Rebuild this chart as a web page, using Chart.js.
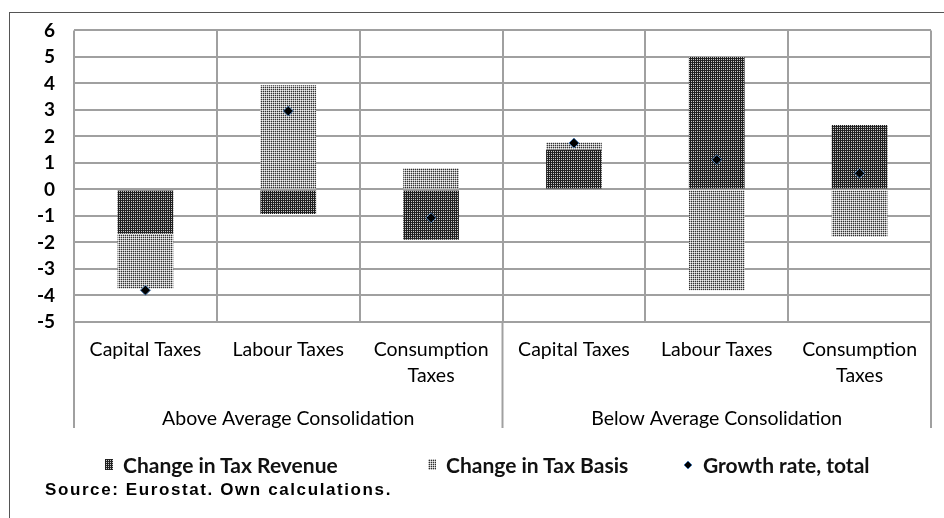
<!DOCTYPE html>
<html>
<head>
<meta charset="utf-8">
<script src="https://cdn.jsdelivr.net/npm/chart.js@4.4.0/dist/chart.umd.min.js"></script>
<style>
  body { margin: 0; width: 944px; height: 518px; overflow: hidden; background: #fff; }
  #frame { position: absolute; left: 9px; top: 12px; width: 1000px; height: 600px; border: 1.5px solid #555; }
  #wrap { position: absolute; left: 0; top: 0; width: 944px; height: 518px; }
  #legend { position: absolute; left: 0; top: 452px; width: 944px; height: 26px; font: bold 21px Lato, sans-serif; color: #111; }
  #legend .item { position: absolute; top: 0; display: flex; align-items: center; white-space: nowrap; }
  #legend canvas { margin-right: 10px; }
  #source { position: absolute; left: 45px; top: 480px; font: bold 17px "Liberation Sans", Arial, sans-serif; letter-spacing: 1.6px; color: #000; }
</style>
</head>
<body>
<div id="frame"></div>
<div id="wrap"><canvas id="myChart" width="944" height="518"></canvas></div>
<div id="legend"></div>
<div id="source">Source: Eurostat. Own calculations.</div>
<script>
// tax categories, grouped by consolidation effort
const categories = [['Capital Taxes'], ['Labour Taxes'], ['Consumption', 'Taxes'],
                    ['Capital Taxes'], ['Labour Taxes'], ['Consumption', 'Taxes']];
const groups = ['Above Average Consolidation', 'Below Average Consolidation'];

// contributions in percentage points
const taxRevenue = [-1.67, -0.93, -1.9, 1.5, 5.0, 2.43];
const taxBasis = [-2.07, 3.93, 0.8, 0.27, -3.8, -1.78];
const growthTotal = [-3.8, 2.96, -1.07, 1.75, 1.12, 0.61];

const yTicks = [-5, -4, -3, -2, -1, 0, 1, 2, 3, 4, 5, 6];

// dotted fill patterns like the old office chart shading
function makePattern(cells) {
  let c = document.createElement('canvas');
  c.width = 2; c.height = 2;
  let g = c.getContext('2d');
  cells.forEach((col, i) => {
    g.fillStyle = col;
    g.fillRect(i % 2, Math.floor(i / 2), 1, 1);
  });
  return document.createElement('canvas').getContext('2d').createPattern(c, 'repeat');
}
const darkFill = makePattern(['#1e1e1e', '#2a2a2a', '#1e1e1e', '#c8c8c8']);
const lightFill = makePattern(['#f0f0f0', '#b4b4b4', '#b4b4b4', '#303030']);

// lines that split the label rows into the two groups
const separators = {
  id: 'separators',
  afterDraw(chart) {
    let x = chart.scales.x, x2 = chart.scales.x2, ctx = chart.ctx;
    let mid = (x.getPixelForValue(2) + x.getPixelForValue(3)) / 2;
    ctx.save();
    ctx.strokeStyle = '#a0a0a0';
    ctx.lineWidth = 2;
    [x.left, mid, x.right].forEach(px => {
      ctx.beginPath();
      ctx.moveTo(px, chart.chartArea.bottom);
      ctx.lineTo(px, x2.bottom);
      ctx.stroke();
    });
    ctx.restore();
  }
};

var ctx = document.getElementById('myChart').getContext('2d');
var myChart = new Chart(ctx, {
  data: {
    labels: categories,
    datasets: [{
      type: 'bar',
      label: 'Change in Tax Revenue',
      data: taxRevenue,
      backgroundColor: darkFill,
      stack: 'tax',
      order: 1,
      xAxisID: 'x',
      categoryPercentage: 1,
      barPercentage: 0.39
    }, {
      type: 'bar',
      label: 'Change in Tax Basis',
      data: taxBasis,
      backgroundColor: lightFill,
      stack: 'tax',
      order: 1,
      xAxisID: 'x',
      categoryPercentage: 1,
      barPercentage: 0.39
    }, {
      type: 'line',
      label: 'Growth rate, total',
      data: growthTotal,
      showLine: false,
      stack: 'growth',
      order: 0,
      xAxisID: 'x',
      pointStyle: 'rectRot',
      pointRadius: 5,
      pointHoverRadius: 5,
      pointBackgroundColor: '#000',
      pointBorderColor: '#4a7ab0',
      pointBorderWidth: 1
    }]
  },
  options: {
    responsive: false,
    animation: false,
    layout: { padding: { left: 0, top: 29, right: 13, bottom: 90 } },
    plugins: {
      legend: { display: false },
      tooltip: { enabled: false }
    },
    scales: {
      x: {
        stacked: true,
        offset: true,
        grid: { offset: true, color: '#a0a0a0', lineWidth: 2, drawTicks: false },
        border: { display: false },
        ticks: {
          color: '#000',
          padding: 15,
          autoSkip: false,
          maxRotation: 0,
          font: { family: 'Lato', size: 19.5, lineHeight: 1.33 }
        },
        afterFit: s => { s.height = 70; }
      },
      x2: {
        type: 'category',
        labels: groups,
        position: 'bottom',
        offset: true,
        grid: { display: false },
        border: { display: false },
        ticks: {
          color: '#000',
          padding: 6,
          autoSkip: false,
          maxRotation: 0,
          font: { family: 'Lato', size: 19.5, lineHeight: 1.33 }
        },
        afterFit: s => { s.height = 36; }
      },
      y: {
        stacked: true,
        min: yTicks[0],
        max: yTicks[yTicks.length - 1],
        afterBuildTicks: s => { s.ticks = yTicks.map(v => ({ value: v })); },
        grid: { color: '#a0a0a0', lineWidth: 2, drawTicks: false },
        border: { display: false },
        ticks: {
          color: '#000',
          padding: 19,
          font: { family: 'Lato', size: 19, weight: 'bold' }
        },
        afterFit: s => { s.width = 74; }
      }
    }
  },
  plugins: [separators]
});

// html legend built from the chart's datasets
function legendIcon(ds) {
  let c = document.createElement('canvas');
  let g = c.getContext('2d');
  if (ds.type === 'line') {
    c.width = 10; c.height = 10;
    g.beginPath();
    g.moveTo(5, 1); g.lineTo(9, 5); g.lineTo(5, 9); g.lineTo(1, 5); g.closePath();
    g.fillStyle = ds.pointBackgroundColor;
    g.fill();
    g.strokeStyle = ds.pointBorderColor;
    g.lineWidth = 1;
    g.stroke();
  } else {
    c.width = 8; c.height = 11;
    g.fillStyle = ds.backgroundColor;
    g.fillRect(0, 0, 8, 11);
  }
  return c;
}
const legendLeft = [105, 428, 683];
let legendBox = document.getElementById('legend');
myChart.data.datasets.forEach((ds, i) => {
  let item = document.createElement('div');
  item.className = 'item';
  item.style.left = legendLeft[i] + 'px';
  item.appendChild(legendIcon(ds));
  let t = document.createElement('span');
  t.textContent = ds.label;
  item.appendChild(t);
  legendBox.appendChild(item);
});
</script>
</body>
</html>
